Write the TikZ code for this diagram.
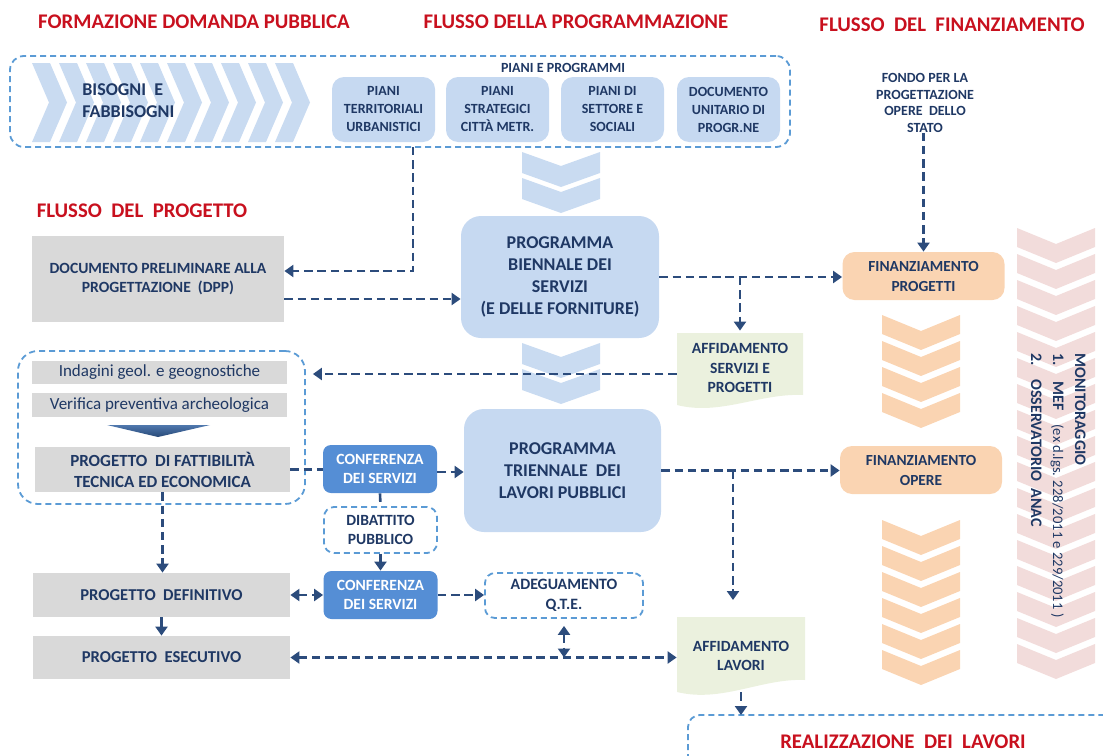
\documentclass[tikz,border=0pt]{standalone}
\usepackage{fontspec}
\setmainfont{Carlito}
\usetikzlibrary{arrows.meta}
\definecolor{navy}{HTML}{1F3864}
\definecolor{arrc}{HTML}{2C4C7C}
\definecolor{redt}{HTML}{C8101E}
\definecolor{lblue}{HTML}{C6D9F1}
\definecolor{chevb}{HTML}{C9DBF1}
\definecolor{dashc}{HTML}{5B9BD5}
\definecolor{greyc}{HTML}{D9D9D9}
\definecolor{confc}{HTML}{558ED5}
\definecolor{orc}{HTML}{FAD4B2}
\definecolor{pinkc}{HTML}{F2DCDB}
\definecolor{greenc}{HTML}{EBF1DE}
\definecolor{triA}{HTML}{4F78AD}
\definecolor{triB}{HTML}{284978}
\tikzset{
 base/.style={inner sep=0pt, align=center, text=navy},
 pianobox/.style={base, fill=lblue, rounded corners=6pt, minimum width=51.5pt, minimum height=32.5pt, font=\fontsize{7}{9}\selectfont\bfseries},
 progbox/.style={base, fill=lblue, rounded corners=10pt, font=\fontsize{9}{10.9}\selectfont\bfseries},
 greybox/.style={base, fill=greyc},
 confbox/.style={base, fill=confc, text=white, rounded corners=4pt, minimum width=57pt, minimum height=24pt, font=\fontsize{7.8}{9.5}\selectfont\bfseries},
 finbox/.style={base, fill=orc, rounded corners=6pt, minimum width=81pt, minimum height=24pt, font=\fontsize{7.7}{10}\selectfont\bfseries},
 dashbox/.style={draw=dashc, line width=0.9pt, dash pattern=on 3pt off 2pt},
 conn/.style={draw=arrc, line width=1.3pt, dash pattern=on 4.2pt off 2.4pt},
 arr/.style={conn, -{Triangle[length=4.5pt,width=6pt]}},
 sarr/.style={draw=arrc, line width=1.3pt, -{Triangle[length=4.5pt,width=6pt]}},
 darr/.style={conn, {Triangle[length=4.5pt,width=6pt]}-{Triangle[length=4.5pt,width=6pt]}},
 ttl/.style={inner sep=0pt, text=redt, font=\fontsize{10.4}{12}\selectfont\bfseries},
}
\begin{document}
\begin{tikzpicture}[x=0.5pt,y=-0.5pt]
\useasboundingbox (0,0) rectangle (1103,755);

% titles
\node[ttl] (t1) at (194,22) {FORMAZIONE DOMANDA PUBBLICA};
\node[ttl] (t2) at (576,22) {FLUSSO DELLA PROGRAMMAZIONE};
\node[ttl] (t3) at (952,25) {FLUSSO~~DEL~~FINANZIAMENTO};
\node[ttl] (t4) at (142,211) {FLUSSO~~DEL~~PROGETTO};

% top group
\foreach \i in {0,...,9}
  \fill[chevb] ({32+27*\i},63) -- ++(18,0) -- ++(17,39.5) -- ++(-17,39.5) -- ++(-18,0) -- ++(17,-39.5) -- cycle;
\node[dashbox, rounded corners=7pt, minimum width=390pt, minimum height=45.5pt, inner sep=0pt] (top) at (400,101.5) {};
\node[base, anchor=west, align=left, font=\fontsize{9}{11}\selectfont\bfseries] (bis) at (82,101) {BISOGNI~~E\\FABBISOGNI};
\node[base, font=\fontsize{7}{9}\selectfont\bfseries] (pp) at (563,68) {PIANI E PROGRAMMI};
\node[pianobox] (p1) at (383.5,109.5) {PIANI\\TERRITORIALI\\URBANISTICI};
\node[pianobox] (p2) at (497.5,109.5) {PIANI\\STRATEGICI\\CITTÀ METR.};
\node[pianobox] (p3) at (612.5,109.5) {PIANI DI\\SETTORE E\\SOCIALI};
\node[pianobox] (p4) at (728.5,109.5) {DOCUMENTO\\UNITARIO DI\\PROGR.NE};

% blue down chevrons
\foreach \y in {152,178,343,369}
  \fill[chevb] (522,\y) -- ++(39,14) -- ++(39,-14) -- ++(0,21) -- ++(-39,14) -- ++(-39,-14) -- cycle;

% orange chevrons
\foreach \y in {315,341,367,393,520,546,572,598,624,650}
  \fill[orc] (882,\y) -- ++(39,16) -- ++(39,-16) -- ++(0,19) -- ++(-39,16) -- ++(-39,-16) -- cycle;
% pink chevrons
\foreach \i in {0,...,16}
  \fill[pinkc] (1017,{228+26*\i}) -- ++(39,16) -- ++(39,-16) -- ++(0,19) -- ++(-39,16) -- ++(-39,-16) -- cycle;

% programmes
\node[progbox, minimum width=99pt, minimum height=61pt] (bien) at (560,277) {PROGRAMMA\\BIENNALE DEI\\SERVIZI\\(E DELLE FORNITURE)};
\node[progbox, minimum width=98.5pt, minimum height=61.5pt] (trien) at (562.5,470.5) {PROGRAMMA\\TRIENNALE~~DEI\\LAVORI PUBBLICI};

% financing
\node[base, font=\fontsize{7}{8.25}\selectfont\bfseries] (fondo) at (925,103) {FONDO PER LA\\PROGETTAZIONE\\OPERE~~DELLO\\STATO};
\node[finbox] (finprog) at (923.5,276) {FINANZIAMENTO\\PROGETTI};
\node[finbox] (finop) at (921,470) {FINANZIAMENTO\\OPERE};
\node[rotate=-90, anchor=north west, align=left, inner sep=0pt, text=navy, font=\fontsize{8}{11}\selectfont\bfseries] (moni) at (1086,353) {MONITORAGGIO\\\makebox[14pt][l]{1.}MEF\hspace{7pt}{\mdseries\fontsize{7.3}{11}\selectfont(ex d.lgs. 228/2011 e 229/2011 )}\\\makebox[13pt][l]{2.}OSSERVATORIO~~ANAC};

% project flow
\node[greybox, minimum width=126pt, minimum height=43pt, font=\fontsize{7.8}{9.5}\selectfont\bfseries] (dpp) at (158,279) {DOCUMENTO PRELIMINARE ALLA\\PROGETTAZIONE~~(DPP)};
\node[dashbox, rounded corners=10pt, minimum width=143.5pt, minimum height=76.5pt, inner sep=0pt] (grp) at (161.5,427.5) {};
\node[greybox, minimum width=127.5pt, minimum height=11.5pt, font=\fontsize{8.5}{10}\selectfont] (ind) at (159.5,372.5) {Indagini geol. e geognostiche};
\node[greybox, minimum width=127.5pt, minimum height=12pt, font=\fontsize{8.5}{10}\selectfont] (ver) at (159.5,405) {Verifica preventiva archeologica};
\shade[top color=triA, bottom color=triB] (107,425) -- (210,425) -- (158,437) -- cycle;
\node[greybox, minimum width=127.5pt, minimum height=22.5pt, font=\fontsize{8.5}{10.5}\selectfont\bfseries] (pfte) at (162.5,469.5) {PROGETTO~~DI FATTIBILITÀ\\TECNICA ED ECONOMICA};
\node[confbox] (conf1) at (380,469) {CONFERENZA\\DEI SERVIZI};
\node[base, dashbox, fill=white, rounded corners=5pt, minimum width=56.5pt, minimum height=23pt, font=\fontsize{7.8}{9.5}\selectfont\bfseries] (dib) at (380.5,530) {DIBATTITO\\PUBBLICO};
\node[confbox] (conf2) at (380.5,595) {CONFERENZA\\DEI SERVIZI};
\node[greybox, minimum width=128.5pt, minimum height=22pt, font=\fontsize{8.3}{10}\selectfont\bfseries] (pd) at (161.5,595) {PROGETTO~~DEFINITIVO};
\node[greybox, minimum width=128.5pt, minimum height=21.5pt, font=\fontsize{8.3}{10}\selectfont\bfseries] (pe) at (161.5,657.5) {PROGETTO~~ESECUTIVO};
\node[base, dashbox, rounded corners=5pt, minimum width=79pt, minimum height=22.5pt, font=\fontsize{7.9}{10}\selectfont\bfseries] (adeg) at (564,595.5) {ADEGUAMENTO\\Q.T.E.};

% documents
\fill[greenc] (677,333) -- (803,333) -- (803,395) .. controls (760,393) and (720,416) .. (677,405) -- cycle;
\node[base, minimum width=63pt, minimum height=37pt, font=\fontsize{7.8}{9.75}\selectfont\bfseries] (affs) at (740,368) {AFFIDAMENTO\\SERVIZI E\\PROGETTI};
\fill[greenc] (677,617) -- (805,617) -- (805,680) .. controls (762,678) and (722,703) .. (677,692) -- cycle;
\node[base, minimum width=64pt, minimum height=36pt, font=\fontsize{7.8}{9.5}\selectfont\bfseries] (affl) at (741,656) {AFFIDAMENTO\\LAVORI};

% realizzazione
\draw[dashbox, rounded corners=6pt] (688,760) -- (688,715) -- (1110,715);
\coordinate (realtop) at (741,715);
\node[ttl] (t5) at (903,742) {REALIZZAZIONE~~DEI~~LAVORI};

% junctions
\coordinate (j1) at (413,147);
\coordinate (j2) at (733,600);

% connectors
\draw[arr] (j1) |- ([yshift=4pt]dpp.east);
\draw[arr] ([yshift=-10pt]dpp.east) -- ([yshift=-10pt]dpp.east -| bien.west);
\draw[arr] (bien.east) -- (bien.east -| finprog.west);
\draw[arr] (bien.east -| affs.north) -- (affs.north);
\draw[arr, shorten >=3.5pt] ([yshift=-3pt]affs.west) -- ([yshift=-3pt]affs.west -| grp.east);
\draw[conn] (pfte.east) -- (pfte.east -| conf1.west);
\draw[arr] ([yshift=-1.5pt]conf1.east) -- ([yshift=-1.5pt]conf1.east -| trien.west);
\draw[arr] (trien.east) -- (trien.east -| finop.west);
\draw[arr] (trien.east -| j2) -- (j2);
\draw[conn] (conf1.south) -- (dib.north);
\draw[arr] (dib.south) -- (conf2.north);
\draw[darr] (pd.east) -- (pd.east -| conf2.west);
\draw[arr] (conf2.east) -- (conf2.east -| adeg.west);
\draw[arr] (pfte.south) -- (pfte.south |- pd.north);
\draw[sarr] (pd.south) -- (pd.south |- pe.north);
\draw[darr] (pe.east) -- (pe.east -| affl.west);
\draw[darr, shorten <=3.5pt] (adeg.south) -- (adeg.south |- pe.east);
\draw[arr] (affl.south) -- (realtop);
\draw[arr] (fondo.south -| finprog.north) -- (finprog.north);
\end{tikzpicture}
\end{document}
